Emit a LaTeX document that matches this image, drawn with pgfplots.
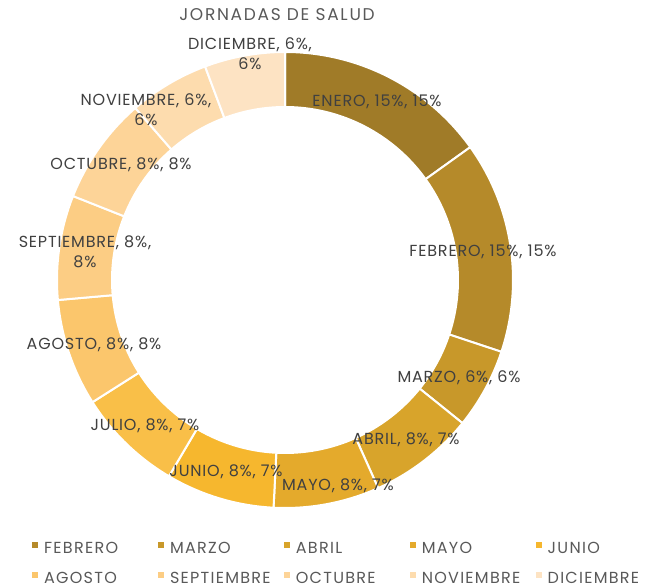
\documentclass[border=0pt]{standalone}
\usepackage{pgfplots}
\usepackage{pgfplotstable}
\pgfplotsset{compat=1.18}
\usepackage{fontspec}
\setmainfont{Poppins}
\newfontfamily\labfont[LetterSpace=5]{Poppins}
\newfontfamily\widefont[LetterSpace=10]{Poppins}
\newfontfamily\legfont[LetterSpace=8]{Poppins}
\definecolor{c1}{HTML}{A07B28}
\definecolor{c2}{HTML}{B58A2A}
\definecolor{c3}{HTML}{C8982A}
\definecolor{c4}{HTML}{D8A42B}
\definecolor{c5}{HTML}{E4AA2C}
\definecolor{c6}{HTML}{F6B72E}
\definecolor{c7}{HTML}{F9BF48}
\definecolor{c8}{HTML}{FBC66C}
\definecolor{c9}{HTML}{FCCD84}
\definecolor{c10}{HTML}{FDD498}
\definecolor{c11}{HTML}{FDDCAE}
\definecolor{c12}{HTML}{FDE3C3}
\definecolor{txt}{HTML}{595959}
\definecolor{labtxt}{HTML}{404040}
\tikzset{lab/.style={font=\labfont\fontsize{16}{20}\selectfont, text=labtxt, align=center, inner sep=0pt}}
\pgfplotstableread[col sep=comma]{
name,value,col
ENERO,15.1,c1
FEBRERO,15.0,c2
MARZO,5.7,c3
ABRIL,7.5,c4
MAYO,7.5,c5
JUNIO,7.7,c6
JULIO,7.5,c7
AGOSTO,7.6,c8
SEPTIEMBRE,7.4,c9
OCTUBRE,7.6,c10
NOVIEMBRE,5.7,c11
DICIEMBRE,5.7,c12
}\piedata
\newcommand{\legtext}[1]{\hspace{6.5pt}\makebox[114pt][l]{\rule[-10pt]{0pt}{29pt}#1}}
\begin{document}
\begin{tikzpicture}
\path[use as bounding box, clip] (0,0) rectangle (645pt,586pt);
\begin{axis}[
  at={(0,0)}, anchor=origin, x=1pt, y=1pt,
  xmin=0, xmax=645, ymin=0, ymax=586,
  hide axis, clip=false,
  legend columns=5,
  legend style={draw=none, fill=none, at={(axis cs:32,52)}, anchor=north west,
    inner sep=0pt, font=\legfont\fontsize{16}{18}\selectfont, text=txt,
    nodes={inner sep=0pt}, column sep=0pt, row sep=10pt},
  legend cell align=left,
  legend image code/.code={\fill[#1] (0pt,-2.5pt) rectangle (5pt,2.5pt);},
]
\pgfplotstablegetrowsof{\piedata}
\pgfmathtruncatemacro\nrows{\pgfplotsretval-1}
\def\cum{0}
\pgfplotsforeachungrouped \i in {0,...,\nrows}{%
  \pgfplotstablegetelem{\i}{value}\of\piedata \let\segval\pgfplotsretval
  \pgfplotstablegetelem{\i}{col}\of\piedata \let\segcol\pgfplotsretval
  \pgfmathsetmacro\angA{90-3.6*\cum}%
  \pgfmathsetmacro\angB{90-3.6*(\cum+\segval)}%
  \pgfmathsetmacro\cum{\cum+\segval}%
  \edef\temp{\noexpand\fill[\segcol, draw=white, line width=2pt] (axis cs:285,306) ++(\angA:228pt) arc[start angle=\angA, end angle=\angB, radius=228pt] -- ++(\angB:-55pt) arc[start angle=\angB, end angle=\angA, radius=173pt] -- cycle;}%
  \temp
}
\addlegendimage{c2}\addlegendentry{\legtext{FEBRERO}}
\addlegendimage{c3}\addlegendentry{\legtext{MARZO}}
\addlegendimage{c4}\addlegendentry{\legtext{ABRIL}}
\addlegendimage{c5}\addlegendentry{\legtext{MAYO}}
\addlegendimage{c6}\addlegendentry{\legtext{JUNIO}}
\addlegendimage{c8}\addlegendentry{\legtext{AGOSTO}}
\addlegendimage{c9}\addlegendentry{\legtext{SEPTIEMBRE}}
\addlegendimage{c10}\addlegendentry{\legtext{OCTUBRE}}
\addlegendimage{c11}\addlegendentry{\legtext{NOVIEMBRE}}
\addlegendimage{c12}\addlegendentry{\legtext{DICIEMBRE}}
\node[lab, text=txt, font=\widefont\fontsize{17}{20}\selectfont] at (axis cs:277,571) {JORNADAS DE SALUD};
\node[lab] at (axis cs:377,484) {ENERO, 15\%, 15\%};
\node[lab] at (axis cs:483,334) {FEBRERO, 15\%, 15\%};
\node[lab] at (axis cs:459,208) {MARZO, 6\%, 6\%};
\node[lab] at (axis cs:406,146) {ABRIL, 8\%, 7\%};
\node[lab] at (axis cs:338,100) {MAYO, 8\%, 7\%};
\node[lab] at (axis cs:226,114) {JUNIO, 8\%, 7\%};
\node[lab] at (axis cs:145,160) {JULIO, 8\%, 7\%};
\node[lab] at (axis cs:94,241) {AGOSTO, 8\%, 8\%};
\node[lab] at (axis cs:85,334) {SEPTIEMBRE, 8\%,\\8\%};
\node[lab] at (axis cs:121,421) {OCTUBRE, 8\%, 8\%};
\node[lab] at (axis cs:146,476) {NOVIEMBRE, 6\%,\\6\%};
\node[lab] at (axis cs:250,532) {DICIEMBRE, 6\%,\\6\%};
\end{axis}
\end{tikzpicture}
\end{document}
